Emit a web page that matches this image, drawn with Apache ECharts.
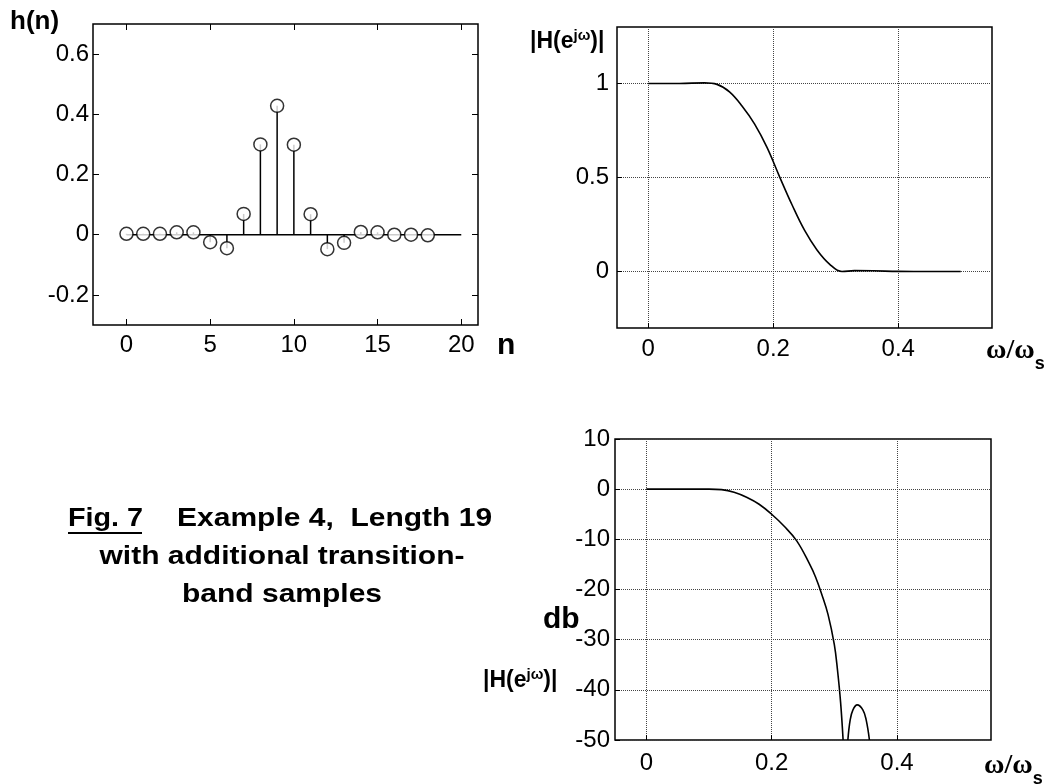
<!DOCTYPE html>
<html>
<head>
<meta charset="utf-8">
<script src="https://cdn.jsdelivr.net/npm/echarts@6/dist/echarts.min.js"></script>
<style>
  html, body { margin: 0; padding: 0; background: #fff; }
  #chart { width: 1059px; height: 784px; }
</style>
</head>
<body>
<div id="chart"></div>
<script>
// ---- Impulse response h(n) ----
const nIndex = [0, 1, 2, 3, 4, 5, 6, 7, 8, 9, 10, 11, 12, 13, 14, 15, 16, 17, 18];
const hValues = [0.003, 0.003, 0.003, 0.008, 0.008, -0.025, -0.045, 0.069, 0.300, 0.428, 0.299, 0.068, -0.048, -0.027, 0.009, 0.008, 0.0, 0.0, -0.002];
const baselineN = [0, 20];
const nTicks = [0, 5, 10, 15, 20];
const hTicks = [-0.2, 0, 0.2, 0.4, 0.6];

// ---- Magnitude response (linear) ----
const magW = [0, 0.05, 0.09, 0.11, 0.13, 0.15, 0.17, 0.19, 0.21, 0.23, 0.25, 0.27, 0.29, 0.31, 0.33, 0.36, 0.40, 0.45, 0.5];
const magH = [1.0, 1.0, 1.003, 0.995, 0.955, 0.88, 0.785, 0.66, 0.505, 0.355, 0.22, 0.115, 0.04, 0.0, 0.005, 0.004, 0.001, 0.0, 0.0];
const freqTicks = [0, 0.2, 0.4];
const magTicks = [0, 0.5, 1];

// ---- Magnitude response (dB) ----
const dbW = [0, 0.05, 0.1, 0.12, 0.14, 0.16, 0.18, 0.2, 0.22, 0.24, 0.26, 0.27, 0.28, 0.29, 0.30, 0.305, 0.31, 0.314, 0.318, 0.3216, 0.3253, 0.3297, 0.3365, 0.3455, 0.3508, 0.356];
const dbV = [0, 0, 0, -0.1, -0.6, -1.6, -3.0, -5.0, -7.4, -10.3, -14.8, -17.5, -21, -25, -31, -36, -42.5, -50, null, -50, -46, -44, -43, -44, -46, -50];

const FONT = 'Liberation Sans, Arial, sans-serif';
const labelStyle = { color: '#000', fontSize: 24, fontFamily: FONT };
const gridLine = { show: true, lineStyle: { color: '#444', type: 'dotted', width: 1 } };
const noLine = { show: false, onZero: false };

const stemData = nIndex.map((n, i) => [n, hValues[i]]);
const magData = magW.map((w, i) => [w, magH[i]]);
const dbData = dbW.map((w, i) => [w, dbV[i] === null ? '-' : dbV[i]]);

const chart = echarts.init(document.getElementById('chart'), null, { renderer: 'canvas' });

const frame = { show: true, borderColor: '#000', borderWidth: 1.5, backgroundColor: 'transparent' };
const tick = (vals, len) => ({ show: true, inside: true, length: len, customValues: vals, lineStyle: { color: '#000', width: 1 } });

const option = {
  backgroundColor: '#fff',
  animation: false,
  grid: [
    Object.assign({ left: 93, top: 24, width: 385, height: 301 }, frame),
    Object.assign({ left: 617, top: 27, width: 375, height: 301 }, frame),
    Object.assign({ left: 615, top: 439, width: 376, height: 301 }, frame)
  ],
  xAxis: [
    { type: 'value', gridIndex: 0, position: 'bottom', min: -2, max: 21, axisLine: noLine,
      axisTick: tick(nTicks, 6),
      axisLabel: Object.assign({ customValues: nTicks, margin: 8 }, labelStyle),
      splitLine: { show: false } },
    { type: 'value', gridIndex: 1, position: 'bottom', min: -0.05, max: 0.55, axisLine: noLine,
      axisTick: tick(freqTicks, 5),
      axisLabel: Object.assign({ customValues: freqTicks, margin: 9 }, labelStyle),
      splitLine: gridLine },
    { type: 'value', gridIndex: 2, position: 'bottom', min: -0.05, max: 0.55, axisLine: noLine,
      axisTick: tick(freqTicks, 5),
      axisLabel: Object.assign({ customValues: freqTicks, margin: 11 }, labelStyle),
      splitLine: gridLine },
    { type: 'value', gridIndex: 0, position: 'top', min: -2, max: 21, axisLine: noLine,
      axisTick: tick(nTicks, 6),
      axisLabel: { show: false, customValues: nTicks },
      splitLine: { show: false } }
  ],
  yAxis: [
    { type: 'value', gridIndex: 0, position: 'left', min: -0.3, max: 0.7, axisLine: noLine,
      axisTick: tick(hTicks, 6),
      axisLabel: Object.assign({ customValues: hTicks, margin: 4 }, labelStyle),
      splitLine: { show: false } },
    { type: 'value', gridIndex: 1, position: 'left', min: -0.3, max: 1.3, axisLine: noLine,
      axisTick: tick(magTicks, 5),
      axisLabel: Object.assign({ customValues: magTicks, margin: 8 }, labelStyle),
      splitLine: gridLine },
    { type: 'value', gridIndex: 2, position: 'left', min: -50, max: 10, interval: 10, axisLine: noLine,
      axisTick: { show: true, inside: true, length: 5, lineStyle: { color: '#000' } },
      axisLabel: Object.assign({ margin: 5 }, labelStyle),
      splitLine: gridLine },
    { type: 'value', gridIndex: 0, position: 'right', min: -0.3, max: 0.7, axisLine: noLine,
      axisTick: tick(hTicks, 6),
      axisLabel: { show: false, customValues: hTicks },
      splitLine: { show: false } }
  ],
  series: [
    { type: 'line', xAxisIndex: 0, yAxisIndex: 0, data: baselineN.map(n => [n, 0]),
      symbol: 'none', lineStyle: { color: '#000', width: 1.5 }, z: 2, silent: true },
    { type: 'custom', xAxisIndex: 0, yAxisIndex: 0, data: stemData, z: 3, silent: true,
      renderItem: function (params, api) {
        const p0 = api.coord([api.value(0), 0]);
        const p1 = api.coord([api.value(0), api.value(1)]);
        return { type: 'line', shape: { x1: p0[0], y1: p0[1], x2: p1[0], y2: p1[1] },
                 style: { stroke: '#000', lineWidth: 1.5 } };
      } },
    { type: 'scatter', xAxisIndex: 0, yAxisIndex: 0, data: stemData, symbol: 'circle', symbolSize: 13,
      itemStyle: { color: '#fff', borderColor: '#000', borderWidth: 1.5 }, z: 4, silent: true },
    { type: 'line', xAxisIndex: 1, yAxisIndex: 1, data: magData, symbol: 'none', smooth: 0.4,
      lineStyle: { color: '#000', width: 1.6 }, silent: true },
    { type: 'line', xAxisIndex: 2, yAxisIndex: 2, data: dbData, symbol: 'none', smooth: 0.4,
      connectNulls: false, lineStyle: { color: '#000', width: 1.6 }, silent: true }
  ],
  graphic: [
    { type: 'text', left: 10, top: 9, style: { text: 'h(n)', fontSize: 26, fontWeight: 'bold', fontFamily: FONT, fill: '#000' } },
    { type: 'text', x: 497, y: 346, style: { text: 'n', fontSize: 30, fontWeight: 'bold', fontFamily: FONT, fill: '#000', verticalAlign: 'middle' } },
    { type: 'text', x: 530, y: 41, style: {
        text: '{a||H(e}{b|jω}{a|)|}', fontFamily: FONT, fill: '#000', verticalAlign: 'middle',
        rich: { a: { fontSize: 23, fontWeight: 'bold', fontFamily: FONT, verticalAlign: 'bottom' },
                b: { fontSize: 15, fontWeight: 'bold', fontFamily: FONT, verticalAlign: 'bottom', padding: [0, 0, 10, 0] } } } },
    { type: 'text', x: 986, y: 355, style: {
        text: '{w|ω/ω}{s|s}', fill: '#000', verticalAlign: 'middle',
        rich: { w: { fontSize: 28, fontWeight: 'bold', fontFamily: 'Liberation Serif, Times New Roman, serif', verticalAlign: 'bottom', padding: [0, 0, 8, 0] },
                s: { fontSize: 18, fontWeight: 'bold', fontFamily: FONT, verticalAlign: 'bottom' } } } },
    { type: 'text', x: 543, y: 620, style: { text: 'db', fontSize: 30, fontWeight: 'bold', fontFamily: FONT, fill: '#000', verticalAlign: 'middle' } },
    { type: 'text', x: 483, y: 680, style: {
        text: '{a||H(e}{b|jω}{a|)|}', fontFamily: FONT, fill: '#000', verticalAlign: 'middle',
        rich: { a: { fontSize: 23, fontWeight: 'bold', fontFamily: FONT, verticalAlign: 'bottom' },
                b: { fontSize: 15, fontWeight: 'bold', fontFamily: FONT, verticalAlign: 'bottom', padding: [0, 0, 10, 0] } } } },
    { type: 'text', x: 984, y: 770, style: {
        text: '{w|ω/ω}{s|s}', fill: '#000', verticalAlign: 'middle',
        rich: { w: { fontSize: 28, fontWeight: 'bold', fontFamily: 'Liberation Serif, Times New Roman, serif', verticalAlign: 'bottom', padding: [0, 0, 8, 0] },
                s: { fontSize: 18, fontWeight: 'bold', fontFamily: FONT, verticalAlign: 'bottom' } } } },
    // Caption
    { type: 'text', x: 68, y: 519, scaleX: 1.15, style: { text: 'Fig. 7', fontSize: 25, fontWeight: 'bold', fontFamily: FONT, fill: '#000', verticalAlign: 'middle' } },
    { type: 'line', shape: { x1: 68, y1: 533, x2: 142, y2: 533 }, style: { stroke: '#000', lineWidth: 2 } },
    { type: 'text', x: 177, y: 519, scaleX: 1.2, style: { text: 'Example 4,  Length 19', fontSize: 25, fontWeight: 'bold', fontFamily: FONT, fill: '#000', verticalAlign: 'middle' } },
    { type: 'text', x: 282, y: 557, scaleX: 1.2, style: { text: 'with additional transition-', fontSize: 25, fontWeight: 'bold', fontFamily: FONT, fill: '#000', align: 'center', verticalAlign: 'middle' } },
    { type: 'text', x: 282, y: 595, scaleX: 1.2, style: { text: 'band samples', fontSize: 25, fontWeight: 'bold', fontFamily: FONT, fill: '#000', align: 'center', verticalAlign: 'middle' } }
  ]
};
chart.setOption(option);
</script>
</body>
</html>
